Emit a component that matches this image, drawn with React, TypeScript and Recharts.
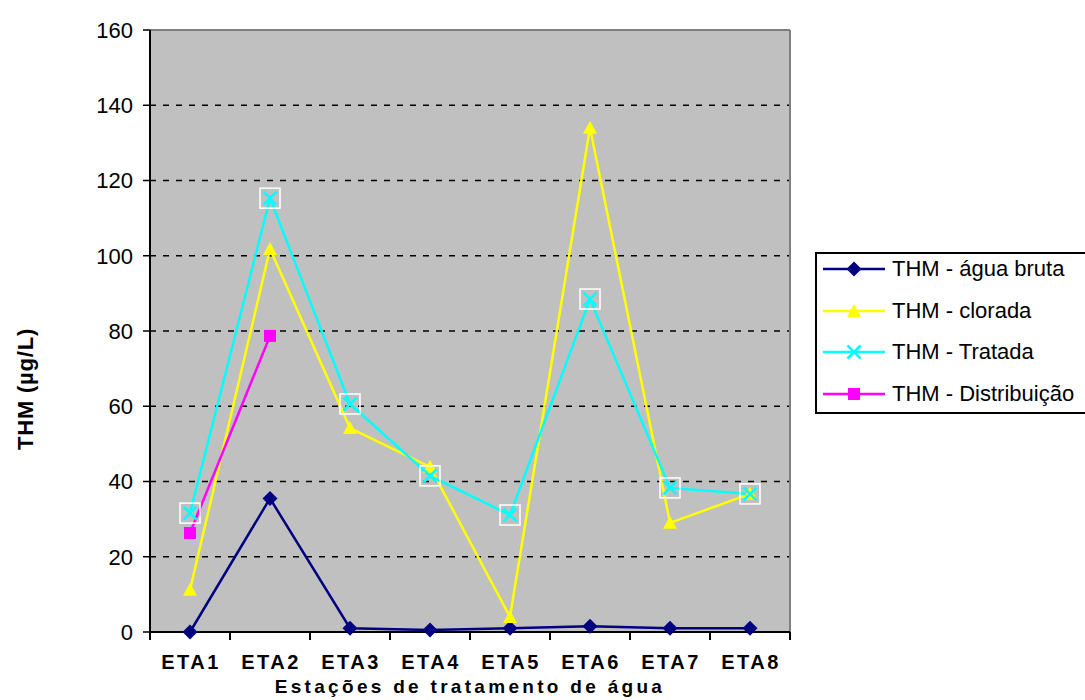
import React from 'react'
import {
  LineChart, Line, XAxis, YAxis, CartesianGrid, ReferenceLine,
} from 'recharts'

const categories = ['ETA1', 'ETA2', 'ETA3', 'ETA4', 'ETA5', 'ETA6', 'ETA7', 'ETA8']
const aguaBruta = [0, 35.5, 1, 0.5, 1, 1.5, 1, 1]
const clorada = [11.2, 101.8, 54.2, 43.9, 4, 134, 29, 36.7]
const tratada = [31.6, 115.3, 60.6, 41.5, 31.1, 88.5, 38.3, 36.7]
const distribuicao: (number | null)[] = [26.3, 78.7, null, null, null, null, null, null]
const yTicks = [0, 20, 40, 60, 80, 100, 120, 140, 160]

const X_TITLE = 'Estações de tratamento de água'
const Y_TITLE = 'THM (µg/L)'

const W = 1085
const H = 700
const MARGIN = { top: 30, right: 295, bottom: 0, left: 0 }
const Y_AXIS_W = 150
const X_AXIS_H = 68
const PLOT_W = W - MARGIN.left - MARGIN.right - Y_AXIS_W
const BAND = PLOT_W / categories.length
const X_TICK_SIZE = 8
const X_TICK_MARGIN = 2
const FONT = '"Liberation Sans", Arial, sans-serif'

type MarkerKind = 'diamond' | 'triangle' | 'cross' | 'square'

const series: { key: string; name: string; color: string; marker: MarkerKind }[] = [
  { key: 'bruta', name: 'THM - água bruta', color: '#000080', marker: 'diamond' },
  { key: 'clorada', name: 'THM - clorada', color: '#FFFF00', marker: 'triangle' },
  { key: 'tratada', name: 'THM - Tratada', color: '#00FFFF', marker: 'cross' },
  { key: 'distribuicao', name: 'THM - Distribuição', color: '#FF00FF', marker: 'square' },
]

const data = categories.map((c, i) => ({
  name: c,
  bruta: aguaBruta[i],
  clorada: clorada[i],
  tratada: tratada[i],
  distribuicao: distribuicao[i],
}))

function Marker({ kind, cx, cy, color, boxed }: { kind: MarkerKind; cx: number; cy: number; color: string; boxed?: boolean }) {
  if (kind === 'diamond') {
    const r = 7.5
    return <path d={`M${cx} ${cy - r}L${cx + r} ${cy}L${cx} ${cy + r}L${cx - r} ${cy}Z`} fill={color} />
  }
  if (kind === 'triangle') {
    const r = 7
    return <path d={`M${cx} ${cy - r}L${cx + r} ${cy + r * 0.85}L${cx - r} ${cy + r * 0.85}Z`} fill={color} />
  }
  if (kind === 'square') {
    const r = 6
    return <rect x={cx - r} y={cy - r} width={r * 2} height={r * 2} fill={color} />
  }
  const r = 6.5
  return (
    <g>
      {boxed && <rect x={cx - 10} y={cy - 10} width={20} height={20} fill="none" stroke="#FFFFFF" strokeWidth={1.5} />}
      <line x1={cx - r} y1={cy - r} x2={cx + r} y2={cy + r} stroke={color} strokeWidth={2.5} />
      <line x1={cx - r} y1={cy + r} x2={cx + r} y2={cy - r} stroke={color} strokeWidth={2.5} />
    </g>
  )
}

const makeDot = (kind: MarkerKind, color: string) => (props: any) => {
  const { cx, cy, index, value } = props
  if (cx == null || cy == null || value == null) return <g key={`d-${index}`} />
  return (
    <g key={`d-${index}`}>
      <Marker kind={kind} cx={cx} cy={cy} color={color} boxed={kind === 'cross'} />
    </g>
  )
}

// category label plus tick marks at the band edges
function CategoryTick({ x, y, payload, index }: any) {
  const top = y - X_TICK_SIZE - X_TICK_MARGIN
  const half = BAND / 2
  return (
    <g>
      <line x1={x - half} x2={x - half} y1={top} y2={top + X_TICK_SIZE} stroke="#000" strokeWidth={2} />
      {index === categories.length - 1 && (
        <line x1={x + half} x2={x + half} y1={top} y2={top + X_TICK_SIZE} stroke="#000" strokeWidth={2} />
      )}
      <text
        x={x + 1}
        y={top + 37}
        textAnchor="middle"
        style={{ fontFamily: FONT, fontSize: 20, fontWeight: 700, letterSpacing: 2.5 }}
        fill="#000"
      >
        {payload.value}
      </text>
    </g>
  )
}

const YTitle = () => (
  <text
    transform="translate(25, 389) rotate(-90)"
    textAnchor="middle"
    dominantBaseline="central"
    style={{ fontFamily: FONT, fontSize: 22, fontWeight: 700, letterSpacing: 0.8 }}
    fill="#000"
  >
    {Y_TITLE}
  </text>
)

function LegendBox() {
  return (
    <div style={{
      position: 'absolute', left: 815, top: 252, width: 290, height: 158,
      border: '2px solid #000', background: '#FFFFFF', fontFamily: FONT,
    }}>
      {series.map((s, i) => (
        <div key={s.key} style={{
          position: 'absolute', left: 0, top: 15 + i * 41.5 - 14, height: 28,
          display: 'flex', alignItems: 'center',
        }}>
          <svg width={70} height={28} style={{ display: 'block' }}>
            <line x1={6} x2={68} y1={14} y2={14} stroke={s.color} strokeWidth={2.5} />
            <Marker kind={s.marker} cx={37} cy={14} color={s.color} />
          </svg>
          <span style={{ fontSize: 22, color: '#000', marginLeft: 5, whiteSpace: 'nowrap' }}>{s.name}</span>
        </div>
      ))}
    </div>
  )
}

export default function App() {
  return (
    <div style={{ position: 'absolute', left: 0, top: 0, width: W, height: H, overflow: 'hidden', background: '#FFFFFF' }}>
      <LineChart width={W} height={H} data={data} margin={MARGIN}>
        <CartesianGrid
          vertical={false}
          fill="#C0C0C0"
          fillOpacity={1}
          stroke="#000"
          strokeWidth={1.5}
          strokeDasharray="6 7"
        />
        <CartesianGrid horizontal={false} verticalPoints={[Y_AXIS_W + PLOT_W]} stroke="#808080" strokeWidth={2} />
        <ReferenceLine y={160} stroke="#808080" strokeWidth={2} />
        <XAxis
          dataKey="name"
          height={X_AXIS_H}
          padding={{ left: BAND / 2, right: BAND / 2 }}
          axisLine={{ stroke: '#000', strokeWidth: 2 }}
          tickLine={false}
          tickSize={X_TICK_SIZE}
          tickMargin={X_TICK_MARGIN}
          tick={<CategoryTick />}
          interval={0}
          label={{
            value: X_TITLE,
            position: 'insideBottom',
            offset: 7,
            style: { fontFamily: FONT, fontSize: 19, fontWeight: 700, letterSpacing: 3.3, fill: '#000' },
          }}
        />
        <YAxis
          width={Y_AXIS_W}
          domain={[0, 160]}
          ticks={yTicks}
          interval={0}
          axisLine={{ stroke: '#000', strokeWidth: 2 }}
          tickLine={{ stroke: '#000', strokeWidth: 1.5 }}
          tickSize={7}
          tickMargin={10}
          tick={{ fontFamily: FONT, fontSize: 22, fill: '#000' }}
          label={<YTitle />}
        />
        {series.map(s => (
          <Line
            key={s.key}
            type="linear"
            dataKey={s.key}
            name={s.name}
            stroke={s.color}
            strokeWidth={2.5}
            dot={makeDot(s.marker, s.color)}
            activeDot={false}
            connectNulls={false}
            isAnimationActive={false}
          />
        ))}
      </LineChart>
      <LegendBox />
    </div>
  )
}
